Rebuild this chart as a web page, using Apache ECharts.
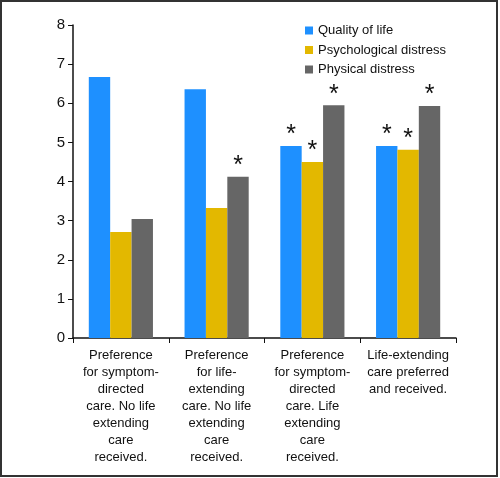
<!DOCTYPE html>
<html><head><meta charset="utf-8">
<script src="https://cdn.jsdelivr.net/npm/echarts@6/dist/echarts.min.js"></script>
<style>html,body{margin:0;padding:0;background:#fff}#c{width:500px;height:478px}</style>
</head><body><div id="c"></div>
<script>
const categories = [
  "Preference\nfor symptom-\ndirected\ncare. No life\nextending\ncare\nreceived.",
  "Preference\nfor life-\nextending\ncare. No life\nextending\ncare\nreceived.",
  "Preference\nfor symptom-\ndirected\ncare. Life\nextending\ncare\nreceived.",
  "Life-extending\ncare preferred\nand received."
];
const seriesNames = ["Quality of life", "Psychological distress", "Physical distress"];
const qualityOfLife = [6.67, 6.36, 4.91, 4.91];
const psychDistress = [2.71, 3.32, 4.50, 4.81];
const physDistress = [3.04, 4.12, 5.95, 5.93];
const sigQuality = [false, false, true, true];
const sigPsych = [false, false, true, true];
const sigPhys = [false, true, true, true];
const colors = ["#1e90ff", "#e3b800", "#666666"];
const yTicks = [0, 1, 2, 3, 4, 5, 6, 7, 8];

const font = "'Liberation Sans Narrow', 'Arial Narrow', 'Liberation Sans', Arial, sans-serif";

function mk(vals, sig) {
  return vals.map((v, i) => ({
    value: v,
    label: { show: sig[i], formatter: '*', position: 'top', distance: -2,
      fontSize: 25, color: '#111', fontFamily: 'Liberation Sans, Arial, sans-serif' }
  }));
}

const chart = echarts.init(document.getElementById('c'), null, {renderer: 'canvas'});
chart.setOption({
  animation: false,
  backgroundColor: '#fff',
  grid: { left: 73, right: 44, top: 25, bottom: 140, containLabel: false },
  legend: {
    orient: 'vertical', left: 300, top: 19, itemWidth: 8, itemHeight: 8, itemGap: 6.5,
    icon: 'rect',
    textStyle: { fontSize: 13, color: '#111', fontFamily: 'Liberation Sans, Arial, sans-serif' },
    data: seriesNames
  },
  xAxis: {
    type: 'category', data: categories,
    axisLine: { lineStyle: { color: '#111', width: 1.5 } },
    axisTick: { show: true, length: 5, lineStyle: { color: '#111' } },
    axisLabel: { interval: 0, fontSize: 13, lineHeight: 17, color: '#111', margin: 9,
      fontFamily: font, align: 'center' }
  },
  yAxis: {
    type: 'value', min: yTicks[0], max: yTicks[yTicks.length - 1], interval: 1,
    splitLine: { show: false },
    axisLine: { show: true, lineStyle: { color: '#111', width: 1.5 } },
    axisTick: { show: true, length: 5, lineStyle: { color: '#111' } },
    axisLabel: { fontSize: 15, color: '#111', margin: 8, fontFamily: 'Liberation Sans, Arial, sans-serif' }
  },
  series: [
    { name: seriesNames[0], type: 'bar', data: mk(qualityOfLife, sigQuality), itemStyle: { color: colors[0] },
      barGap: '0%', barCategoryGap: '33%' },
    { name: seriesNames[1], type: 'bar', data: mk(psychDistress, sigPsych), itemStyle: { color: colors[1] },
      barGap: '0%', barCategoryGap: '33%' },
    { name: seriesNames[2], type: 'bar', data: mk(physDistress, sigPhys), itemStyle: { color: colors[2] },
      barGap: '0%', barCategoryGap: '33%' }
  ],
  graphic: [{
    type: 'rect', shape: { x: 1, y: 1, width: 496, height: 475 },
    style: { fill: 'none', stroke: '#333', lineWidth: 2 }, silent: true
  }]
});
</script></body></html>
